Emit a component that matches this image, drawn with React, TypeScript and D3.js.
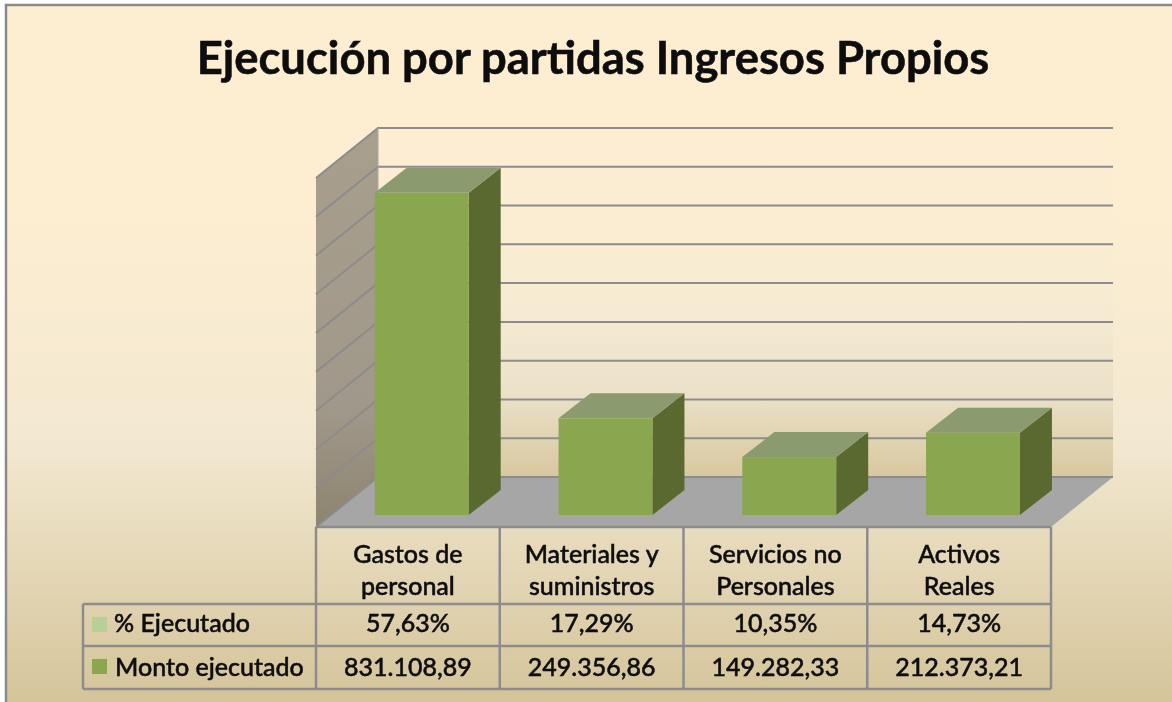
import * as d3 from 'd3';

const categories = ['Gastos de personal', 'Materiales y suministros', 'Servicios no Personales', 'Activos Reales'];
const catLines = [['Gastos de', 'personal'], ['Materiales y', 'suministros'], ['Servicios no', 'Personales'], ['Activos', 'Reales']];
const montoEjecutado = [831108.89, 249356.86, 149282.33, 212373.21];
const montoLabels = ['831.108,89', '249.356,86', '149.282,33', '212.373,21'];
const pctLabels = ['57,63%', '17,29%', '10,35%', '14,73%'];
const yTicks = d3.range(0, 900001, 100000);

const FONT = 'Lato, Carlito, sans-serif';
const GRID = '#8c8c8c';

// plot box: front floor corner, depth offset
const LEFT = 316;
const RIGHT = 1051;
const BASE = 527;
const DX = 62;
const DY = -50;

const xScale = d3.scaleBand<string>().domain(categories).range([LEFT, RIGHT]).padding(0);
const yScale = d3.scaleLinear().domain([0, 900000]).range([0, 349]);

const poly = (pts: number[][]) => d3.line()(pts as [number, number][]) + 'Z';

export default function App() {
  const bw = xScale.bandwidth();
  const wallTop = BASE + DY - yScale(900000);
  const rowY = [604, 646, 689];
  const colX = [83, ...categories.map(c => xScale(c)!), RIGHT];

  return (
    <svg width={1172} height={702} style={{ position: 'absolute', left: 0, top: 0 }}>
      <defs>
        <linearGradient id="bg" x1="0" y1="0" x2="0" y2="1">
          <stop offset="0" stopColor="#fdeed2" />
          <stop offset="0.3" stopColor="#fdeed2" />
          <stop offset="0.62" stopColor="#f2e8d0" />
          <stop offset="1" stopColor="#d3c297" />
        </linearGradient>
        <linearGradient id="back" x1="0" y1="0" x2="0" y2="1">
          <stop offset="0" stopColor="#feeed2" />
          <stop offset="0.5" stopColor="#f7ecd3" />
          <stop offset="0.75" stopColor="#ebe2c9" />
          <stop offset="1" stopColor="#d8c8a0" />
        </linearGradient>
        <linearGradient id="side" x1="0" y1="0" x2="0" y2="1">
          <stop offset="0" stopColor="#a89f8d" />
          <stop offset="0.7" stopColor="#a0988a" />
          <stop offset="1" stopColor="#8d8470" />
        </linearGradient>
        <filter id="soft" x="-5%" y="-5%" width="110%" height="110%">
          <feGaussianBlur stdDeviation="0.5" />
        </filter>
      </defs>
      <rect x={6} y={5} width={1180} height={710} fill="url(#bg)" stroke="#8a8a8a" strokeWidth={2.5} />
      <text x={593} y={74} textAnchor="middle" fontFamily={FONT} fontWeight={700} fontSize={45.4} fill="#0a0a0a" stroke="#0a0a0a" strokeWidth={0.5} filter="url(#soft)">
        Ejecución por partidas Ingresos Propios
      </text>

      {/* walls and floor */}
      <path d={poly([[LEFT + DX, wallTop], [RIGHT + DX, wallTop], [RIGHT + DX, BASE + DY], [LEFT + DX, BASE + DY]])} fill="url(#back)" />
      <path d={poly([[LEFT, BASE], [LEFT, wallTop - DY], [LEFT + DX, wallTop], [LEFT + DX, BASE + DY]])} fill="url(#side)" />
      <path d={poly([[LEFT, BASE], [RIGHT, BASE], [RIGHT + DX, BASE + DY], [LEFT + DX, BASE + DY]])} fill="#a6a6a6" />
      {yTicks.map(t => {
        const y = BASE + DY - yScale(t);
        return (
          <path key={t} d={`M${LEFT},${y - DY}L${LEFT + DX},${y}L${RIGHT + DX},${y}`} fill="none" stroke={GRID} strokeWidth={2} />
        );
      })}
      <line x1={LEFT + DX} x2={LEFT + DX} y1={wallTop} y2={BASE + DY} stroke="#a8a8a0" strokeWidth={1} />

      {/* bars */}
      {categories.map((c, i) => {
        const x0 = xScale(c)! + bw * 0.32;
        const x1 = x0 + bw * 0.511;
        const yb = BASE - 12;
        const yt = yb - yScale(montoEjecutado[i]);
        const dx = 32;
        const dy = -25;
        return (
          <g key={c}>
            <path d={poly([[x1, yb], [x1 + dx, yb + dy], [x1 + dx, yt + dy], [x1, yt]])} fill="#596930" />
            <path d={poly([[x0, yt], [x1, yt], [x1 + dx, yt + dy], [x0 + dx, yt + dy]])} fill="#8c9a70" />
            <rect x={x0} y={yt} width={x1 - x0} height={yb - yt} fill="#8aa64e" />
          </g>
        );
      })}

      {/* data table */}
      <g stroke={GRID} strokeWidth={2.5} fill="none">
        <line x1={LEFT} x2={RIGHT} y1={BASE} y2={BASE} />
        {rowY.map(y => <line key={y} x1={colX[0]} x2={RIGHT} y1={y} y2={y} />)}
        <line x1={colX[0]} x2={colX[0]} y1={rowY[0]} y2={rowY[2]} />
        {colX.slice(1).map(x => <line key={x} x1={x} x2={x} y1={BASE} y2={rowY[2]} />)}
      </g>
      <g fontFamily={FONT} fontSize={25} fontWeight={500} fill="#0a0a0a" stroke="#0a0a0a" strokeWidth={0.45} textAnchor="middle" filter="url(#soft)">
        {categories.map((c, i) => {
          const cx = xScale(c)! + bw / 2;
          return (
            <g key={c}>
              <text x={cx} y={563}>{catLines[i][0]}</text>
              <text x={cx} y={595}>{catLines[i][1]}</text>
              <text x={cx} y={632}>{pctLabels[i]}</text>
              <text x={cx} y={676}>{montoLabels[i]}</text>
            </g>
          );
        })}
        <text x={114} y={632} textAnchor="start">% Ejecutado</text>
        <text x={115} y={676} textAnchor="start">Monto ejecutado</text>
      </g>
      <rect x={92} y={617} width={15} height={15} fill="#b9cf96" />
      <rect x={92} y={659} width={15} height={15} fill="#8aa64e" />
    </svg>
  );
}
